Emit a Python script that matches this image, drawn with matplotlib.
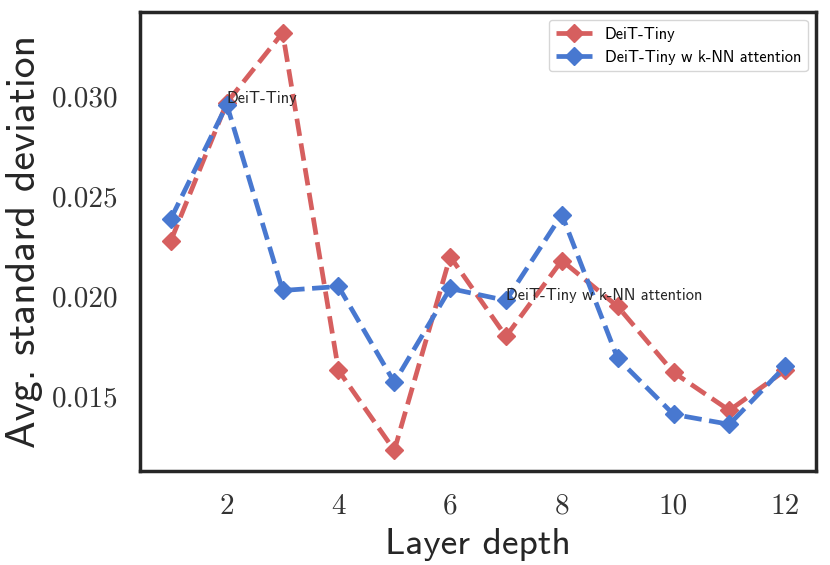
import numpy as np
import matplotlib
matplotlib.use("Agg")
import matplotlib.pyplot as plt
from matplotlib.ticker import FormatStrFormatter

# layer-wise average std of attention outputs
layers = np.arange(1, 13)
deit_tiny = [0.0228, 0.0297, 0.0332, 0.0163, 0.0123, 0.0220,
             0.0180, 0.0218, 0.0195, 0.0162, 0.0143, 0.0163]
deit_knn = [0.0239, 0.0296, 0.0203, 0.0205, 0.0157, 0.0204,
            0.0198, 0.0241, 0.0169, 0.0141, 0.0136, 0.0165]
series_names = ["DeiT-Tiny", "DeiT-Tiny w k-NN attention"]

red = "#d65f5f"
blue = "#4878d0"
sans = ["cmss10", "DejaVu Sans"]
serif = ["cmr10", "DejaVu Serif"]

fig = plt.figure(figsize=(8.3, 5.65), dpi=100)
ax = fig.add_axes([0.169, 0.166, 0.814, 0.813])

ax.plot(layers, deit_tiny, color=red, linestyle="--", linewidth=3.4,
        marker="D", markersize=9, label=series_names[0])
ax.plot(layers, deit_knn, color=blue, linestyle="--", linewidth=3.4,
        marker="D", markersize=9, label=series_names[1])

# inline labels
ax.text(2, deit_tiny[1], series_names[0], family=sans, fontsize=11.8, color="#262626")
ax.text(7, deit_knn[6], series_names[1], family=sans, fontsize=11.8, color="#262626")

ax.set_xticks([2, 4, 6, 8, 10, 12])
ax.set_yticks([0.015, 0.020, 0.025, 0.030])
ax.yaxis.set_major_formatter(FormatStrFormatter("%.3f"))
for lab in ax.get_xticklabels() + ax.get_yticklabels():
    lab.set_family(serif)
    lab.set_fontsize(21)
    lab.set_color("#333333")
ax.tick_params(length=0, pad=16)

ax.set_xlabel("Layer depth", family=sans, fontsize=27, color="#262626", labelpad=6)
ax.set_ylabel("Avg. standard deviation", family=sans, fontsize=30, color="#262626", labelpad=6)

for s in ax.spines.values():
    s.set_color("#262626")
    s.set_linewidth(2.5)

leg = ax.legend(loc="upper right", prop={"family": sans, "size": 11.8},
                frameon=True, fancybox=True, handlelength=2.2)
leg.get_frame().set_edgecolor("#cccccc")

fig.savefig("out.png", dpi=100)
